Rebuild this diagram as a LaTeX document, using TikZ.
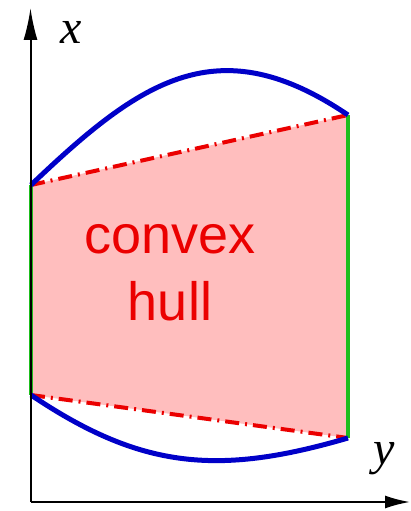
\documentclass[tikz,border=0pt]{standalone}
\usepackage{fontspec}
\newfontfamily\hullfont{Liberation Sans}
\newfontfamily\axisfont{Liberation Serif}
\usepackage{tikz}
\usetikzlibrary{arrows.meta}

\definecolor{arcblue}{RGB}{0,0,200}
\definecolor{sidegreen}{RGB}{30,190,30}
\definecolor{hullpink}{RGB}{255,190,190}
\definecolor{chordred}{RGB}{235,0,0}

\begin{document}
\begin{tikzpicture}[x=1pt, y=-1pt,
    axis/.style = {line width=2pt, black},
    arc/.style = {line width=5pt, arcblue},
    side/.style = {line width=4.5pt, sidegreen},
    chord/.style = {line width=4pt, chordred, dash pattern=on 14pt off 6pt on 2pt off 6pt},
    lbl/.style = {font=\axisfont\itshape\fontsize{48}{50}\selectfont, inner sep=0pt}]
            \useasboundingbox (0,0) rectangle (410,511);

            \coordinate (O) at (30.5,502);
            \coordinate (xtip) at (30.5,8);
            \coordinate (ytip) at (410,502);

            \coordinate (A) at (31,185);
            \coordinate (B) at (348,115);
            \coordinate (C) at (31,395);
            \coordinate (D) at (348,438);

            \fill[hullpink] (A) -- (B) -- (D) -- (C) -- cycle;

            \node[font=\hullfont\fontsize{54}{67}\selectfont, text=chordred, align=center] (hull) at (170,273) {convex\\hull};

            \draw[chord] (A) -- (B);
            \draw[chord] (C) -- (D);

            \draw[side] (A) -- (C);
            \draw[side] (B) -- (D);

            \draw[arc] (A) .. controls (141,80) and (218,27) .. (B);
            \draw[arc] (C) .. controls (141,469) and (218,476) .. (D);

            \draw[axis, -{Latex[length=32pt,width=14pt]}] (O) -- (xtip);
            \draw[axis, -{Latex[length=25pt,width=13pt]}] (O) -- (ytip);

            \node[lbl] (xlab) at (71,32) {x};
            \node[lbl] (ylab) at (384,459) {y};
        \end{tikzpicture}
\end{document}
